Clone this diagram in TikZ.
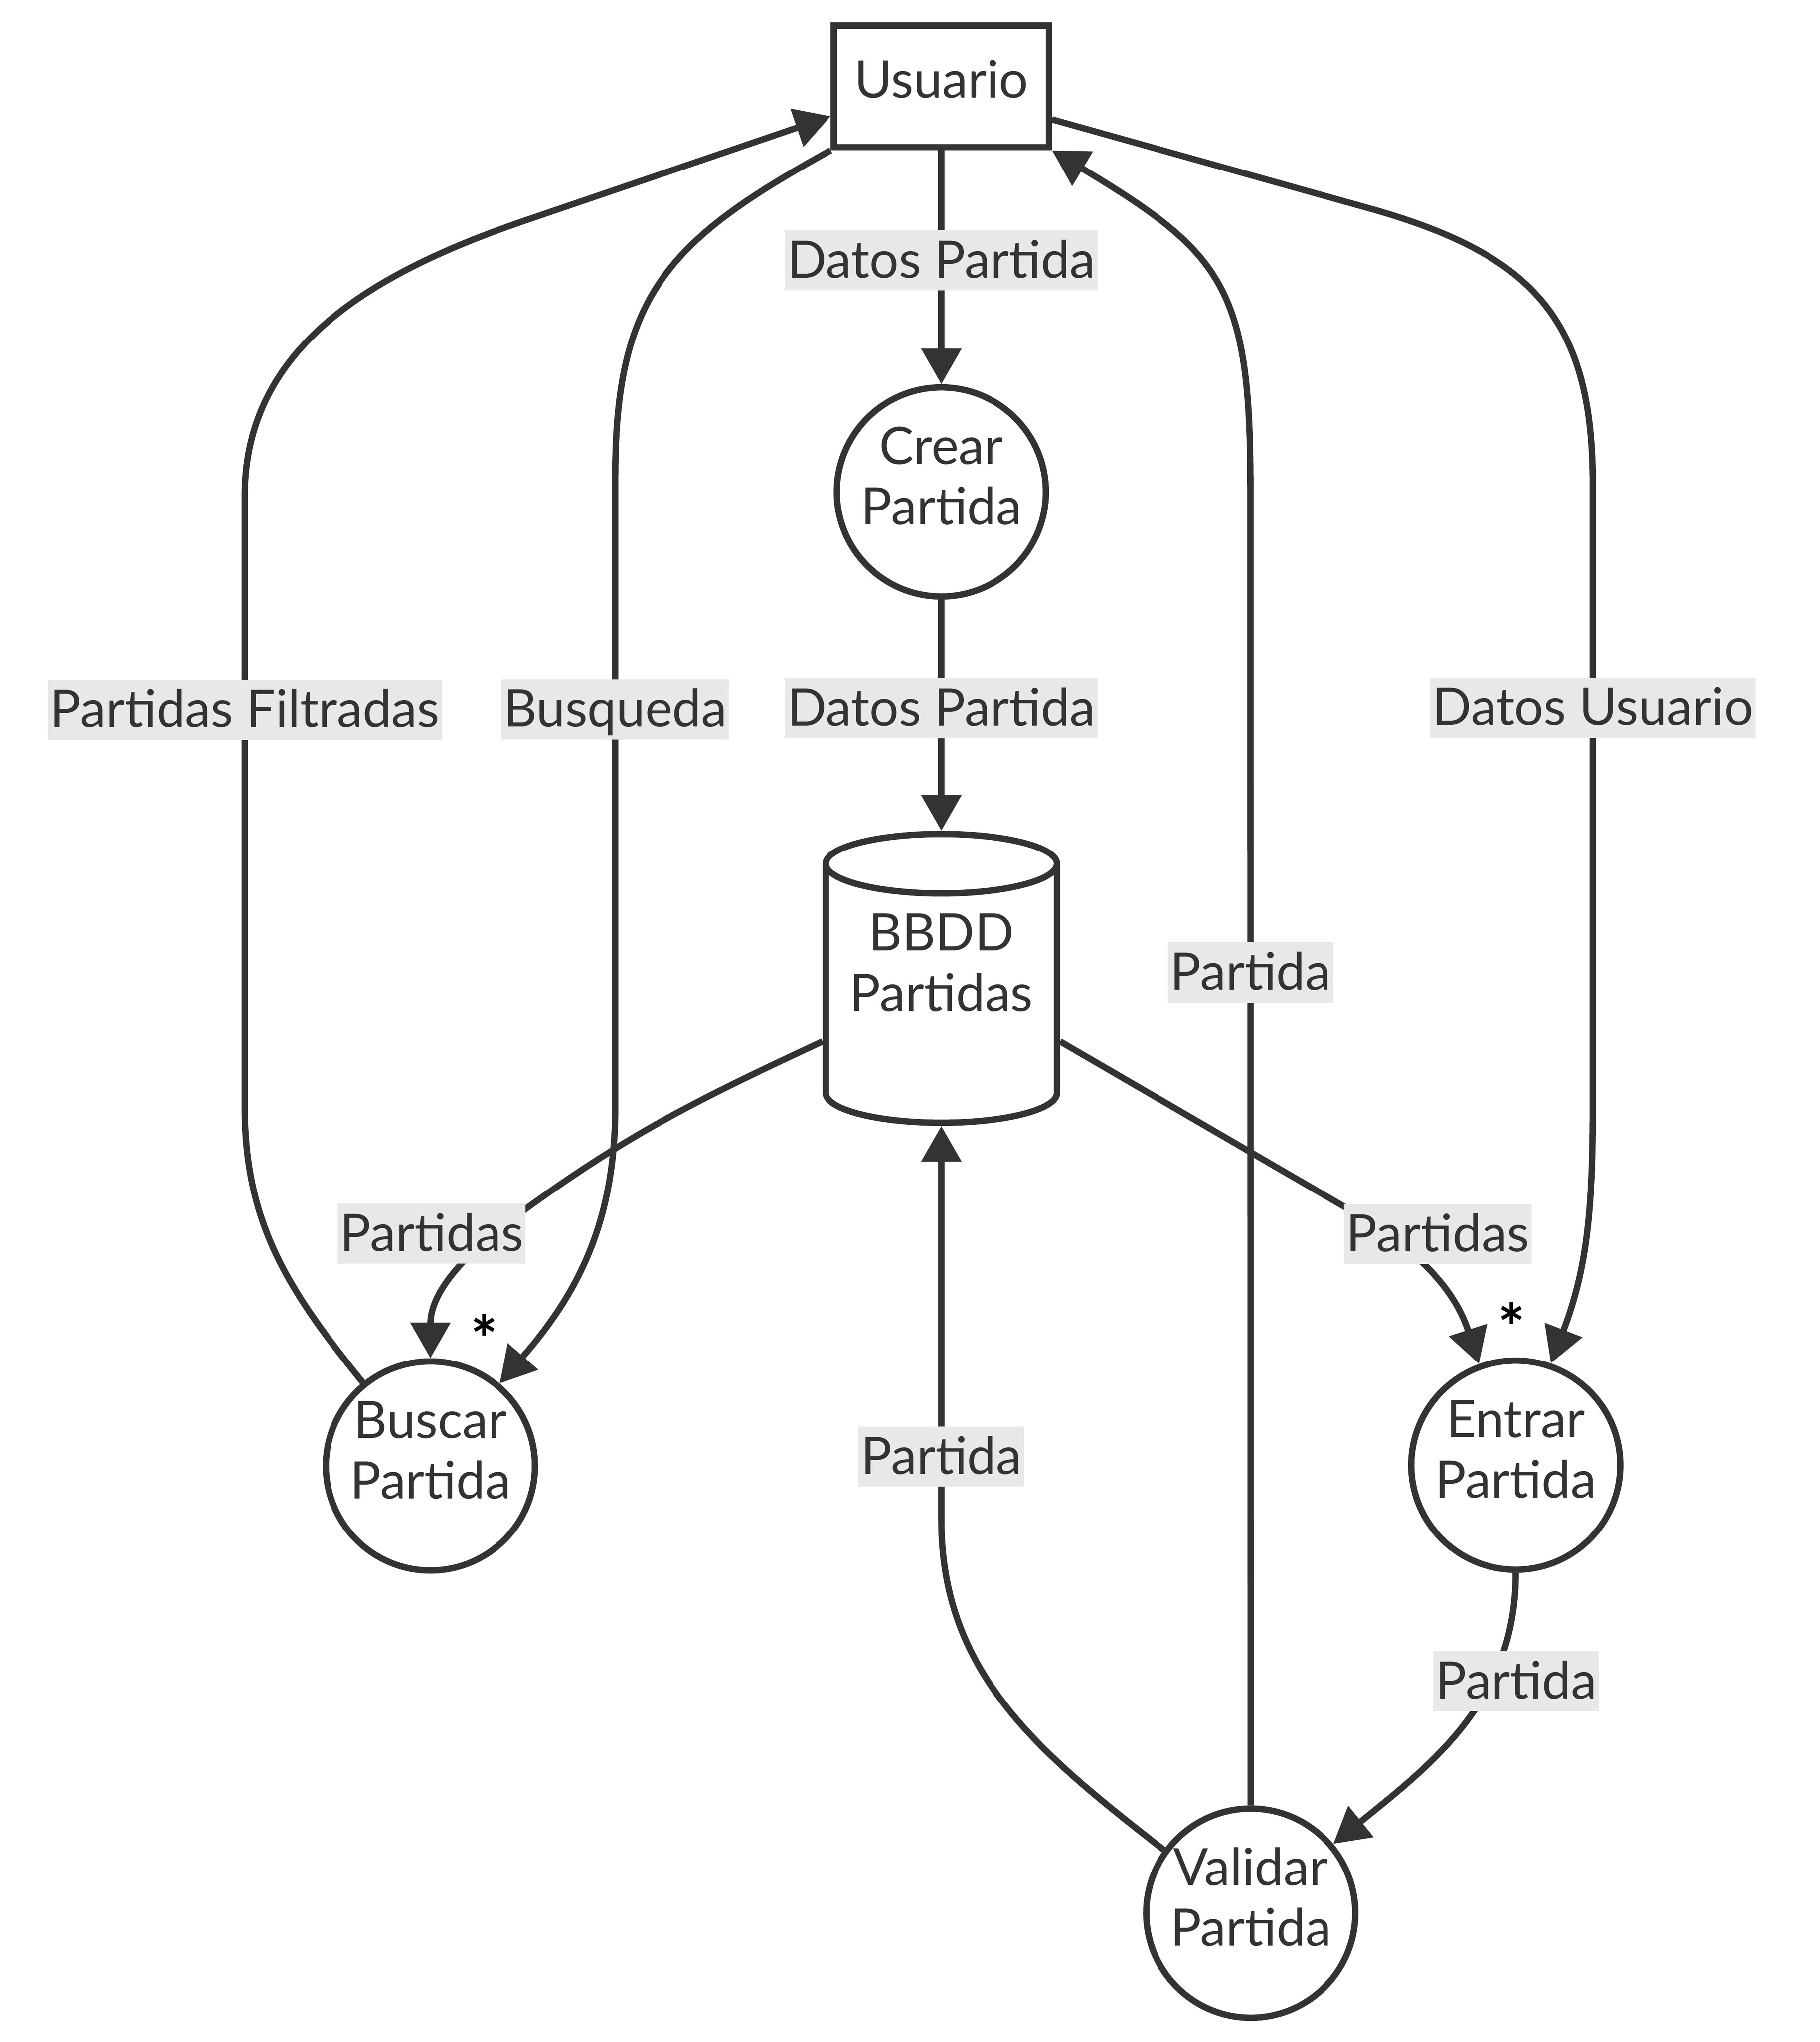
\documentclass[tikz,border=0pt]{standalone}
\usepackage{fontspec}
\setmainfont{Lato}
\usetikzlibrary{positioning, arrows.meta}
\definecolor{ink}{HTML}{333333}
\definecolor{lblgray}{HTML}{E8E8E8}

\begin{document}
\begin{tikzpicture}
	[on grid, node distance=2cm, line width=0.16cm, color=ink,
	 >={Triangle[length=0.9cm,width=0.98cm]},
	 txt/.style={font=\fontsize{37pt}{43.2pt}\selectfont},
	 ent/.style={draw, txt, rectangle, minimum width=5.42cm, minimum height=3.06cm,
	   text height=0.93cm, text depth=0.36cm},
	 proc/.style={draw, txt, circle, align=center, inner sep=0pt, minimum size=5.27cm,
	   text height=2.2cm, text depth=0.56cm},
	 store/.style={txt, rectangle, align=center, inner sep=0pt, outer sep=0pt,
	   minimum width=5.99cm, minimum height=7.44cm, text height=2.2cm, text depth=0.56cm},
	 lbl/.style={fill=lblgray, txt, inner xsep=0.06cm, inner ysep=0pt,
	   text height=1.2cm, text depth=0.32cm},
	 mult/.style={font=\fontsize{46pt}{50pt}\selectfont\bfseries, text=black}]
   \useasboundingbox (0,0) rectangle (45.88,-51.47);
   \node[ent] (usr) at (23.73,-2.18) {Usuario};
   \node[proc] (crear) [below=10.22cm of usr] {Crear\\Partida};
   \node[store] (bbdd) [below=12.26cm of crear] {BBDD\\Partidas};
   \node[proc] (buscar) [below left=12.29cm and 12.88cm of bbdd] {Buscar\\Partida};
   \node[proc] (entrar) [below right=12.27cm and 14.48cm of bbdd] {Entrar\\Partida};
   \node[proc] (validar) [below left=11.29cm and 6.68cm of entrar] {Validar\\Partida};
   % database outline
   \draw ([xshift=0.08cm,yshift=-0.83cm]bbdd.north west)
     -- ([xshift=0.08cm,yshift=0.83cm]bbdd.south west)
     arc[start angle=180, end angle=360, x radius=2.915cm, y radius=0.75cm]
     -- ([xshift=-0.08cm,yshift=-0.83cm]bbdd.north east)
     arc[start angle=0, end angle=360, x radius=2.915cm, y radius=0.75cm];
       \path[->]
    (usr) edge node[lbl, pos=0.47] {Datos Partida} (crear)
    (crear) edge node[lbl, pos=0.47] {Datos Partida} (bbdd);
   \draw[->] (usr.south west) to[out=209,in=90,looseness=1.2] (15.51,-12.00)
     -- node[lbl, pos=0.37] {Busqueda} (15.51,-27.90)
     to[out=-90,in=49] (buscar.50);
   \draw[->] (buscar.129) to[out=129,in=-90] (6.17,-27.90)
     -- node[lbl, pos=0.65] {Partidas Filtradas} (6.17,-12.50)
     to[out=90,in=199] (13.20,-5.57) -- ([yshift=-0.75cm]usr.west);
   \draw[->] ([yshift=-0.83cm]usr.east) -- (34.62,-5.28)
     to[out=-16,in=90,looseness=1.2] (40.15,-12.18)
     -- node[lbl, pos=0.36] {Datos Usuario} (40.15,-27.90)
     to[out=-90,in=69] (entrar.71);
   \draw[->] (validar) -- node[lbl, pos=0.63] {Partida} (31.52,-12.18)
     to[out=90,in=-31,looseness=1.3] (usr.south east);
   \draw[->] (bbdd.208) to[out=205,in=36] (13.17,-30.53)
     to[out=216,in=90] node[lbl, pos=0.25, xshift=-1.34cm, yshift=0.2cm] {Partidas}
       node[mult, pos=1, xshift=1.36cm, yshift=0.5cm] {*} (buscar);
   \draw[->] (bbdd.-28) -- (34.00,-30.48)
     to[out=-30,in=108] node[lbl, pos=0.25, xshift=1.09cm, yshift=0.14cm] {Partidas}
       node[mult, pos=1, xshift=0.83cm, yshift=0.94cm] {*} (entrar.110);
   \draw[->] (entrar) to[out=-90,in=39]
     node[lbl, pos=0.3, xshift=0.53cm, yshift=-0.22cm] {Partida} (validar.40);
   \draw[->] (validar.144) to[out=142,in=-90] (23.73,-38.30)
     -- node[lbl, pos=0.16] {Partida} (bbdd);
\end{tikzpicture}
\end{document}
